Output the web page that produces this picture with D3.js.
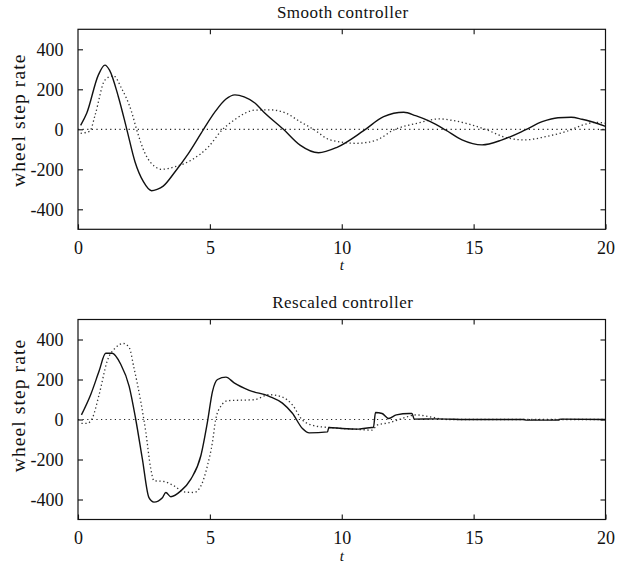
<!DOCTYPE html>
<html>
<head>
<meta charset="utf-8">
<script src="https://cdn.jsdelivr.net/npm/d3@7"></script>
<style>
  body { margin: 0; background: #fff; }
</style>
</head>
<body>
<div id="wrapper"></div>
<script>
// data
const xTicks = [0, 5, 10, 15, 20]
const yTicks = [-400, -200, 0, 200, 400]

// Smooth controller
const smoothSolidT = [0.1, 0.33, 0.77, 1.02, 1.2, 1.53, 1.85, 2.16, 2.48, 2.79, 3.0, 3.23, 3.68, 4.19, 4.76, 5.2, 5.6, 5.95, 6.3, 6.72, 7.03, 7.79, 8.42, 9.12, 9.82, 10.83, 11.59, 12.35, 12.8, 13.36, 13.93, 14.56, 15.32, 16.08, 16.96, 17.6, 18.2, 18.7, 19.11, 20]
const smoothSolidV = [20, 80, 271, 321, 295, 163, 0, -162, -262, -307, -300, -284, -212, -120, 0, 88, 150, 172, 162, 130, 88, 0, -79, -117, -90, -7, 63, 85, 68, 38, -3, -53, -78, -53, -3, 38, 58, 60, 50, 15]
const smoothDotT = [0.1, 0.45, 0.65, 1.02, 1.34, 1.65, 2.03, 2.22, 2.54, 2.92, 3.17, 3.68, 4.31, 4.95, 5.45, 5.96, 6.72, 7.3, 7.9, 8.42, 8.93, 9.56, 10.57, 11.33, 11.97, 12.85, 13.7, 14.3, 15.44, 16.33, 16.96, 17.72, 18.48, 19.37, 19.65, 20]
const smoothDotV = [-20, -9, 72, 246, 268, 205, 88, 0, -120, -187, -200, -187, -153, -87, -5, 50, 96, 97, 80, 38, 0, -53, -70, -53, -3, 30, 52, 42, 0, -45, -53, -37, -12, 30, 35, 30]

// Rescaled controller
const rescSolidT = [0.13, 0.48, 0.8, 1.05, 1.3, 1.62, 1.94, 2.19, 2.44, 2.69, 2.88, 3.2, 3.33, 3.52, 3.9, 4.28, 4.66, 4.91, 5.1, 5.29, 5.61, 5.92, 6.49, 7.25, 7.75, 8.13, 8.51, 8.77, 9.46, 9.51, 10.01, 10.64, 11.15, 11.2, 11.28, 11.53, 11.78, 12.07, 12.56, 12.66, 12.75, 13.5, 15, 16.9, 17.0, 18.2, 18.3, 20]
const rescSolidV = [23, 124, 242, 331, 331, 276, 166, 0, -197, -391, -413, -391, -365, -386, -357, -298, -180, -11, 141, 200, 212, 183, 146, 116, 82, 31, -45, -67, -62, -40, -45, -48, -40, -40, 35, 30, 5, 23, 30, 30, 2, 3, 0, 0, -3, -3, 2, 0]
const rescDotT = [0.13, 0.35, 0.54, 0.8, 1.11, 1.43, 1.72, 1.94, 2.12, 2.38, 2.57, 2.76, 2.88, 3.26, 3.64, 4.02, 4.4, 4.66, 4.91, 5.1, 5.22, 5.41, 5.67, 6.68, 7.25, 7.75, 8.13, 8.51, 9.02, 9.51, 10.66, 11.15, 11.34, 11.8, 12.31, 12.82, 13.32, 14, 20]
const rescDotV = [-19, -19, 6, 124, 293, 360, 380, 360, 259, 90, -62, -247, -306, -310, -332, -362, -365, -332, -230, -112, 0, 65, 94, 99, 124, 112, 73, -3, -33, -40, -50, -53, -28, -16, 6, 23, 14, 0, 0]

const zip = (ts, vs) => ts.map((t, i) => [t, vs[i]])

const panels = [
    { title: "Smooth controller", top: 29.3, solid: zip(smoothSolidT, smoothSolidV), dot: zip(smoothDotT, smoothDotV), labelShift: -9 },
    { title: "Rescaled controller", top: 319.5, solid: zip(rescSolidT, rescSolidV), dot: zip(rescDotT, rescDotV), labelShift: -14 },
]

const serif = "Liberation Serif"
const width = 625, height = 564
const left = 78, right = 605.5, ph = 200

const svg = d3.select("#wrapper")
    .append("svg")
    .attr("width", width)
    .attr("height", height)

panels.forEach(p => {
    const x = d3.scaleLinear().domain([0, 20]).range([left, right])
    const y = d3.scaleLinear().domain([-500, 500]).range([p.top + ph, p.top])
    const g = svg.append("g")

    // zero reference
    g.append("line")
        .attr("x1", x(0)).attr("x2", x(20))
        .attr("y1", y(0)).attr("y2", y(0))
        .attr("stroke", "#222")
        .attr("stroke-width", 1.2)
        .attr("stroke-dasharray", "1.2,3.4")

    const line = d3.line()
        .x(d => x(d[0]))
        .y(d => y(d[1]))
        .curve(d3.curveMonotoneX)

    g.append("path")
        .attr("d", line(p.dot))
        .attr("fill", "none")
        .attr("stroke", "#333")
        .attr("stroke-width", 1.3)
        .attr("stroke-dasharray", "1.3,2.6")

    g.append("path")
        .attr("d", line(p.solid))
        .attr("fill", "none")
        .attr("stroke", "#111")
        .attr("stroke-width", 1.4)

    // axes, ticks inside; plain hyphen for negatives like the original
    const tickFmt = d => String(d)
    const xAxis = g.append("g")
        .attr("transform", `translate(0,${p.top + ph})`)
        .call(d3.axisBottom(x).tickValues(xTicks).tickSizeInner(-5).tickSizeOuter(0).tickFormat(tickFmt))
    xAxis.selectAll(".tick text").attr("y", 24.5).attr("dy", 0)
    g.append("g")
        .attr("transform", `translate(0,${p.top})`)
        .call(d3.axisTop(x).tickValues(xTicks.slice(1, 4)).tickSizeInner(-5).tickSizeOuter(0).tickFormat(""))
    g.append("g")
        .attr("transform", `translate(${left},0)`)
        .call(d3.axisLeft(y).tickValues(yTicks).tickSizeInner(-5).tickSizeOuter(0).tickPadding(14.5).tickFormat(tickFmt))
    g.append("g")
        .attr("transform", `translate(${right},0)`)
        .call(d3.axisRight(y).tickValues(yTicks).tickSizeInner(-5).tickSizeOuter(0).tickFormat(""))

    g.selectAll(".domain").remove()
    g.selectAll("g").attr("font-family", serif).attr("font-size", null)
    g.selectAll(".tick line").attr("stroke", "#111").attr("stroke-width", 1.1)
    g.selectAll(".tick text")
        .attr("font-family", serif)
        .attr("font-size", 18)
        .attr("fill", "#111")

    g.append("rect")
        .attr("x", left).attr("y", p.top)
        .attr("width", right - left).attr("height", ph)
        .attr("fill", "none")
        .attr("stroke", "#111")
        .attr("stroke-width", 1.2)

    g.append("text")
        .attr("x", (left + right) / 2 + 1)
        .attr("y", p.top - 11.4)
        .attr("text-anchor", "middle")
        .attr("font-family", serif)
        .attr("font-size", 17)
        .attr("letter-spacing", 0.5)
        .attr("fill", "#111")
        .text(p.title)

    g.append("text")
        .attr("x", (left + right) / 2)
        .attr("y", p.top + ph + 41)
        .attr("text-anchor", "middle")
        .attr("font-family", serif)
        .attr("font-size", 15)
        .attr("font-style", "italic")
        .attr("fill", "#111")
        .text("t")

    g.append("text")
        .attr("transform", `translate(25,${p.top + ph / 2 + p.labelShift}) rotate(-90)`)
        .attr("text-anchor", "middle")
        .attr("font-family", serif)
        .attr("font-size", 19.5)
        .attr("letter-spacing", 1.1)
        .attr("fill", "#111")
        .text("wheel step rate")
})
</script>
</body>
</html>
